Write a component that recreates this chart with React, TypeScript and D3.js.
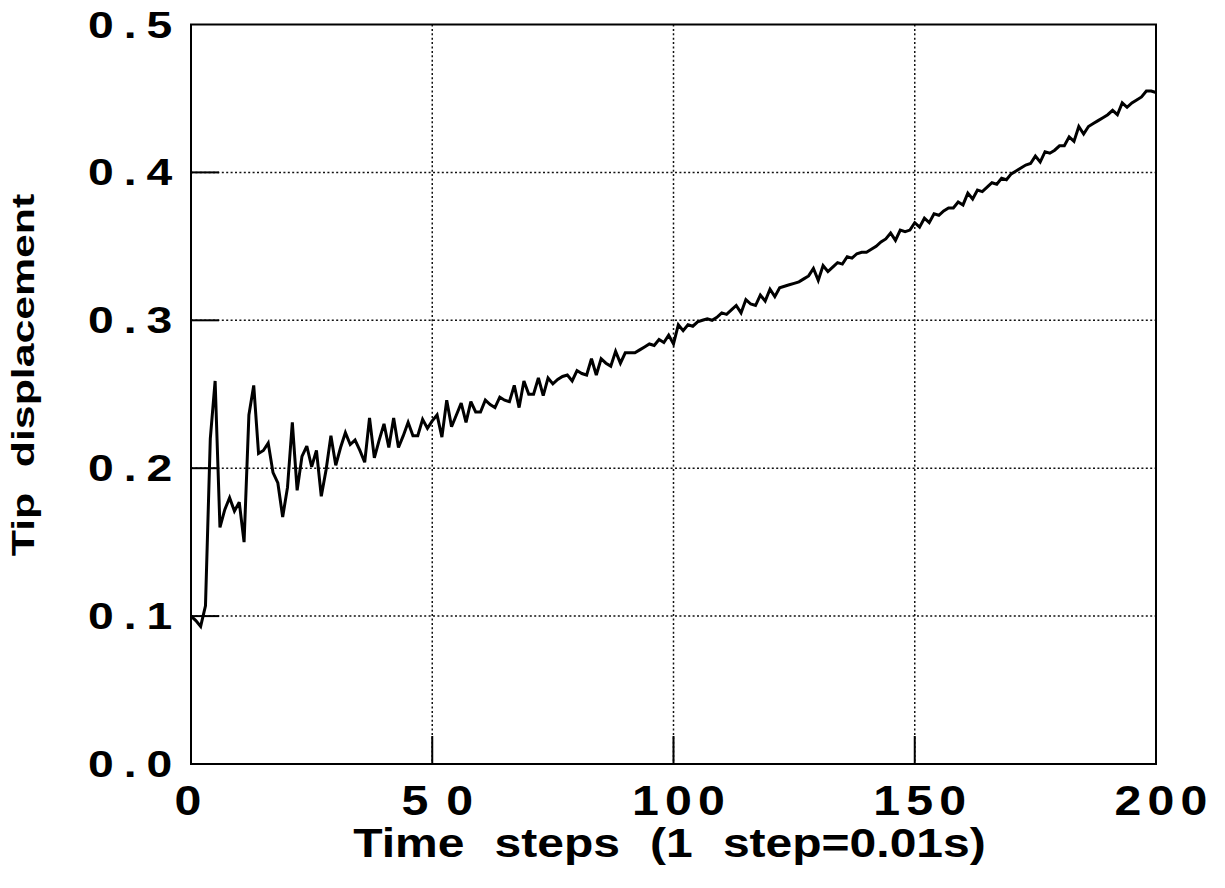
import React, { useEffect, useRef } from "react";
import * as d3 from "d3";

// Tip displacement, one value per time step (0..200)
const displacement: number[] = [
  0.1, 0.097, 0.093, 0.107, 0.22, 0.259, 0.16, 0.172, 0.18, 0.171,
  0.177, 0.15, 0.236, 0.256, 0.21, 0.212, 0.217, 0.197, 0.19, 0.167,
  0.187, 0.231, 0.185, 0.208, 0.215, 0.201, 0.212, 0.181, 0.199, 0.222,
  0.202, 0.214, 0.224, 0.216, 0.219, 0.212, 0.204, 0.234, 0.207, 0.219,
  0.23, 0.214, 0.234, 0.214, 0.222, 0.231, 0.222, 0.222, 0.233, 0.227,
  0.232, 0.236, 0.221, 0.246, 0.228, 0.236, 0.244, 0.231, 0.245, 0.238,
  0.238, 0.246, 0.243, 0.241, 0.248, 0.246, 0.245, 0.256, 0.241, 0.259,
  0.25, 0.25, 0.261, 0.249, 0.261, 0.257, 0.26, 0.262, 0.263, 0.259,
  0.266, 0.264, 0.263, 0.274, 0.263, 0.274, 0.271, 0.269, 0.279, 0.271,
  0.278, 0.278, 0.278, 0.28, 0.282, 0.284, 0.283, 0.287, 0.285, 0.29,
  0.284, 0.297, 0.293, 0.297, 0.296, 0.299, 0.3, 0.301, 0.3, 0.302,
  0.305, 0.304, 0.307, 0.31, 0.305, 0.314, 0.311, 0.31, 0.317, 0.313,
  0.321, 0.316, 0.322, 0.323, 0.324, 0.325, 0.326, 0.328, 0.33, 0.335,
  0.327, 0.337, 0.333, 0.336, 0.339, 0.338, 0.343, 0.342, 0.345, 0.346,
  0.346, 0.348, 0.35, 0.353, 0.355, 0.359, 0.354, 0.361, 0.36, 0.361,
  0.366, 0.363, 0.369, 0.366, 0.372, 0.371, 0.374, 0.376, 0.376, 0.38,
  0.378, 0.386, 0.382, 0.388, 0.387, 0.39, 0.393, 0.392, 0.396, 0.395,
  0.399, 0.401, 0.403, 0.405, 0.406, 0.411, 0.407, 0.414, 0.413, 0.415,
  0.418, 0.418, 0.424, 0.421, 0.431, 0.426, 0.431, 0.433, 0.435, 0.437,
  0.439, 0.442, 0.439, 0.447, 0.444, 0.447, 0.449, 0.451, 0.455, 0.455,
  0.454,
];

const xTicks = [0, 50, 100, 150, 200];
const yTicks = [0, 0.1, 0.2, 0.3, 0.4, 0.5];
const xTitle = "Time steps (1 step=0.01s)";
const yTitle = "Tip displacement";

const App = () => {
  const ref = useRef<SVGSVGElement>(null);

  useEffect(() => {
    const width = 1225;
    const height = 888;
    const left = 191;
    const right = 1156;
    const top = 24.5;
    const bottom = 764;
    const font = "'Liberation Sans', Arial, Helvetica, sans-serif";

    const x = d3.scaleLinear().domain([0, 200]).range([left, right]);
    const y = d3.scaleLinear().domain([0, 0.5]).range([bottom, top]);

    const svg = d3.select(ref.current);
    svg.selectAll("*").remove();
    svg.attr("width", width).attr("height", height);

    svg.append("rect").attr("width", width).attr("height", height).attr("fill", "#fff");

    // dotted grid
    const grid = svg.append("g").attr("stroke", "#111").attr("stroke-width", 1.5).attr("stroke-dasharray", "2,2.4");
    grid
      .selectAll("line.gx")
      .data(xTicks.filter((d) => d > 0 && d < 200))
      .join("line")
      .attr("x1", (d) => x(d))
      .attr("x2", (d) => x(d))
      .attr("y1", top)
      .attr("y2", bottom);
    grid
      .selectAll("line.gy")
      .data(yTicks.filter((d) => d > 0 && d < 0.5))
      .join("line")
      .attr("class", "gy")
      .attr("x1", left)
      .attr("x2", right)
      .attr("y1", (d) => y(d))
      .attr("y2", (d) => y(d));

    // inward ticks
    const ticks = svg.append("g").attr("stroke", "#000").attr("stroke-width", 2);
    ticks
      .selectAll("line.tx")
      .data(xTicks.filter((d) => d > 0 && d < 200))
      .join("line")
      .attr("x1", (d) => x(d))
      .attr("x2", (d) => x(d))
      .attr("y1", bottom)
      .attr("y2", bottom - 28);
    ticks
      .selectAll("line.ty")
      .data(yTicks.filter((d) => d > 0 && d < 0.5))
      .join("line")
      .attr("class", "ty")
      .attr("x1", left)
      .attr("x2", left + 28)
      .attr("y1", (d) => y(d))
      .attr("y2", (d) => y(d));

    // frame
    svg
      .append("rect")
      .attr("x", left)
      .attr("y", top)
      .attr("width", right - left)
      .attr("height", bottom - top)
      .attr("fill", "none")
      .attr("stroke", "#000")
      .attr("stroke-width", 2);

    // curve
    const line = d3
      .line<number>()
      .x((d, i) => x(i))
      .y((d) => y(d));
    svg
      .append("path")
      .datum(displacement)
      .attr("d", line)
      .attr("fill", "none")
      .attr("stroke", "#000")
      .attr("stroke-width", 3)
      .attr("stroke-linejoin", "miter")
      .attr("stroke-miterlimit", 3);

    // y tick labels
    svg
      .append("g")
      .selectAll("text")
      .data(yTicks)
      .join("text")
      .attr("transform", (d) => `translate(88,${y(d) + 13}) scale(1.25,1)`)
      .attr("font-family", font)
      .attr("font-weight", "bold")
      .attr("font-size", 37)
      .attr("letter-spacing", 8)
      .text((d) => d.toFixed(1));

    // x tick labels
    svg
      .append("g")
      .selectAll("text")
      .data(xTicks)
      .join("text")
      .attr("transform", (d) => {
        const ls = d === 50 ? 15.5 : 5.3;
        const off = d === 0 ? -3 : 5;
        return `translate(${x(d) + off + (ls * 1.15) / 2},815) scale(1.15,1)`;
      })
      .attr("text-anchor", "middle")
      .attr("font-family", font)
      .attr("font-weight", "bold")
      .attr("font-size", 42)
      .attr("letter-spacing", (d) => (d === 50 ? 15.5 : 5.3))
      .text((d) => String(d));

    // axis titles
    svg
      .append("text")
      .attr("transform", `translate(${(left + right) / 2 - 4},857) scale(1.2,1)`)
      .attr("text-anchor", "middle")
      .attr("font-family", font)
      .attr("font-weight", "bold")
      .attr("font-size", 40)
      .attr("word-spacing", 14)
      .text(xTitle);

    svg
      .append("text")
      .attr("transform", `translate(34,375) rotate(-90) scale(1.38,1)`)
      .attr("text-anchor", "middle")
      .attr("font-family", font)
      .attr("font-weight", "bold")
      .attr("font-size", 31)
      .attr("word-spacing", 10)
      .text(yTitle);
  }, []);

  return <svg ref={ref} style={{ position: "absolute", left: 0, top: 0 }} />;
};

export default App;
